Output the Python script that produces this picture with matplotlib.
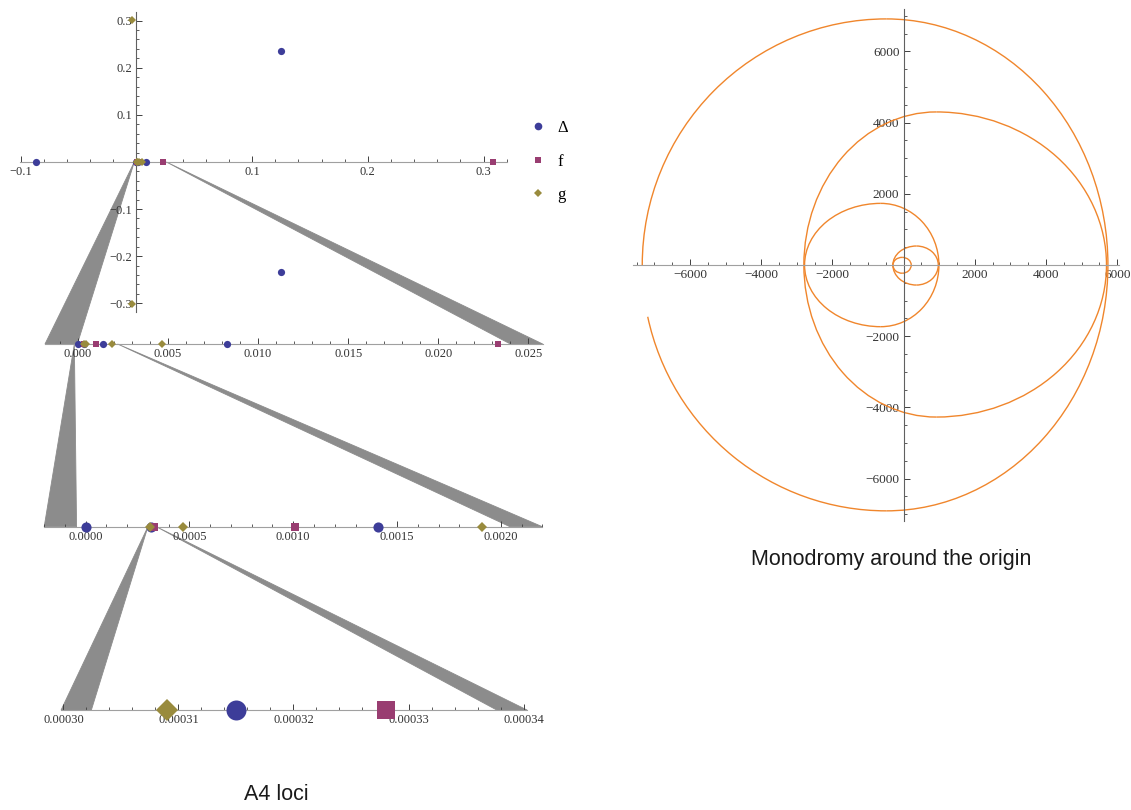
import numpy as np
import matplotlib.pyplot as plt
from matplotlib.lines import Line2D
from matplotlib.patches import Arc, Polygon
from matplotlib.ticker import MultipleLocator, FuncFormatter

plt.rcParams['font.family'] = 'serif'
plt.rcParams['font.serif'] = ['Liberation Serif']

W, H = 1131, 810

# roots of the discriminant and of the coefficients f, g
delta_x = [-0.087, 0.125, 0.125, 0.0, 0.000315, 0.00141, 0.0083]
delta_y = [0.0, 0.235, -0.234, 0.0, 0.0, 0.0, 0.0]
f_x = [0.308, 0.0233, 0.00101, 0.000328]
f_y = [0.0, 0.0, 0.0, 0.0]
g_x = [-0.0035, -0.0035, 0.000309, 0.00047, 0.00191, 0.00465]
g_y = [0.302, -0.302, 0.0, 0.0, 0.0, 0.0]
series_labels = ['\u0394', 'f', 'g']

# successive zooms along the real axis
zoom_ranges = [(-0.00183, 0.0258), (-0.0002, 0.0022), (0.0002998, 0.0003403)]
zoom_major = [0.005, 0.0005, 0.00001]
zoom_minor = [0.001, 0.0001, 0.000002]
zoom_digits = [3, 4, 5]

# monodromy loops: left/right axis crossing, x of extremum, top, bottom
loop_left = [-300, -300, -2781, -2800, -7340]
loop_right = [215, 975, 993, 5700, 5740]
loop_peak_x = [-40, 360, -640, 920, -486]
loop_top = [215, 534, 1732, 4300, 6913]
loop_bottom = [-230, -562, -1732, -4270, -6905]
spiral_end = (-7180, -1452)

colors = ['#3d3d99', '#993d71', '#998b3d']
markers = ['o', 's', 'D']
orange = '#f0862c'

fig = plt.figure(figsize=(W / 100, H / 100), dpi=100)


def px_axes(left, top, width, height):
    return fig.add_axes([left / W, 1 - (top + height) / H, width / W, height / H])


def fmt(digits, hide_zero):
    def f(v, pos):
        if hide_zero and abs(v) < 1e-12:
            return ''
        if abs(v) < 1e-12:
            v = 0.0
        return f'{v:.{digits}f}'.replace('-', '\u2212')
    return FuncFormatter(f)


def style(ax, show_y=True, size=9):
    ax.set_facecolor('none')
    ax.spines['top'].set_visible(False)
    ax.spines['right'].set_visible(False)
    ax.spines['bottom'].set_position('zero')
    ax.spines['bottom'].set_color('#a0a0a0')
    ax.spines['bottom'].set_linewidth(0.8)
    if show_y:
        ax.spines['left'].set_position('zero')
        ax.spines['left'].set_color('#606060')
        ax.spines['left'].set_linewidth(0.8)
    else:
        ax.spines['left'].set_visible(False)
        ax.set_yticks([])
    ax.tick_params(which='both', direction='in', color='#404040',
                   labelcolor='#333333', labelsize=size, pad=3)
    ax.tick_params(which='major', length=4, width=0.7)
    ax.tick_params(which='minor', length=2.2, width=0.6)


def plot_points(ax, sizes, clip=True):
    xs = [delta_x, f_x, g_x]
    ys = [delta_y, f_y, g_y]
    for x, y, c, m, s in zip(xs, ys, colors, markers, sizes):
        ax.plot(x, y, ls='none', marker=m, ms=s, color=c, mew=0,
                zorder=3, clip_on=clip)


# top panel: the complex plane
ax1 = px_axes(20.4, 11.7, 486.3, 300.5)
ax1.set_xlim(-0.1003, 0.32)
ax1.set_ylim(-0.319, 0.319)
style(ax1)
ax1.xaxis.set_major_locator(MultipleLocator(0.1))
ax1.xaxis.set_minor_locator(MultipleLocator(0.02))
ax1.yaxis.set_major_locator(MultipleLocator(0.1))
ax1.yaxis.set_minor_locator(MultipleLocator(0.02))
ax1.xaxis.set_major_formatter(fmt(1, True))
ax1.yaxis.set_major_formatter(fmt(1, True))
plot_points(ax1, [5.2, 4.5, 3.6], clip=False)

# zoomed number lines
boxes = [(45, 344, 497.7), (44.2, 526.7, 498.1), (61.1, 710.0, 465.9)]
point_sizes = [[5.2, 4.5, 3.6], [7.3, 6.3, 5.2], [14.4, 13.0, 11.2]]
zoom_axes = []
for (left, yc, width), (lo, hi), mj, mn, dg, sz in zip(
        boxes, zoom_ranges, zoom_major, zoom_minor, zoom_digits, point_sizes):
    ax = px_axes(left, yc - 15, width, 30)
    ax.set_xlim(lo, hi)
    ax.set_ylim(-1, 1)
    style(ax, show_y=False)
    ax.xaxis.set_major_locator(MultipleLocator(mj))
    ax.xaxis.set_minor_locator(MultipleLocator(mn))
    ax.xaxis.set_major_formatter(fmt(dg, False))
    plot_points(ax, sz)
    zoom_axes.append(ax)

# grey wedges linking each window to its zoom
to_fig = fig.transFigure.inverted()
base_frac = 0.065
chain = [ax1] + zoom_axes
for upper, lower in zip(chain[:-1], chain[1:]):
    lo, hi = lower.get_xlim()
    span = hi - lo
    for apex_x, b0, b1 in [(lo, lo, lo + base_frac * span),
                           (hi, hi - base_frac * span, hi)]:
        pts = [upper.transData.transform((apex_x, 0)),
               lower.transData.transform((b0, 0)),
               lower.transData.transform((b1, 0))]
        pts = to_fig.transform(np.array(pts))
        fig.add_artist(Polygon(pts, closed=True, transform=fig.transFigure,
                               facecolor='#8c8c8c', edgecolor='#8c8c8c',
                               lw=0.6, zorder=-1))

# legend
handles = [Line2D([], [], ls='none', marker=m, ms=s, color=c, mew=0)
           for m, s, c in zip(markers, [5.5, 4.6, 3.8], colors)]
fig.legend(handles, series_labels, loc='upper left',
           bbox_to_anchor=(531 / W, 1 - 120 / H), frameon=False,
           fontsize=12, labelspacing=1.05, handlelength=0.8,
           handletextpad=0.8, borderpad=0, borderaxespad=0)

# monodromy spiral
ax2 = px_axes(633, 8.7, 485.6, 512.3)
ax2.set_xlim(-7600, 6040)
ax2.set_ylim(-7190, 7200)
style(ax2, size=9.5)
ax2.xaxis.set_major_locator(MultipleLocator(2000))
ax2.xaxis.set_minor_locator(MultipleLocator(500))
ax2.yaxis.set_major_locator(MultipleLocator(2000))
ax2.yaxis.set_minor_locator(MultipleLocator(500))
ax2.xaxis.set_major_formatter(fmt(0, True))
ax2.yaxis.set_major_formatter(fmt(0, True))

n = len(loop_left)
for i in range(n):
    xl, xr, xp = loop_left[i], loop_right[i], loop_peak_x[i]
    top, bot = loop_top[i], -loop_bottom[i]
    wl, wr = 2 * (xp - xl), 2 * (xr - xp)
    quarters = [(wl, 2 * top, 90, 180), (wr, 2 * top, 0, 90),
                (wr, 2 * bot, 270, 360)]
    if i == n - 1:
        ex, ey = spiral_end
        start = np.degrees(np.arctan2(ey, ex - xp)) % 360
        quarters.append((wl, 2 * bot, start, 270))
    else:
        quarters.append((wl, 2 * bot, 180, 270))
    for w, h, t1, t2 in quarters:
        ax2.add_patch(Arc((xp, 0), w, h, theta1=t1, theta2=t2,
                          color=orange, lw=1.0, zorder=2))

fig.text(891 / W, 1 - 560 / H, 'Monodromy around the origin',
         family='Liberation Sans', fontsize=15.5, color='#1a1a1a',
         ha='center', va='center')
fig.text(276 / W, 1 - 795 / H, 'A4 loci', family='Liberation Sans',
         fontsize=15.5, color='#1a1a1a', ha='center', va='center')

fig.savefig('out.png', dpi=100)
